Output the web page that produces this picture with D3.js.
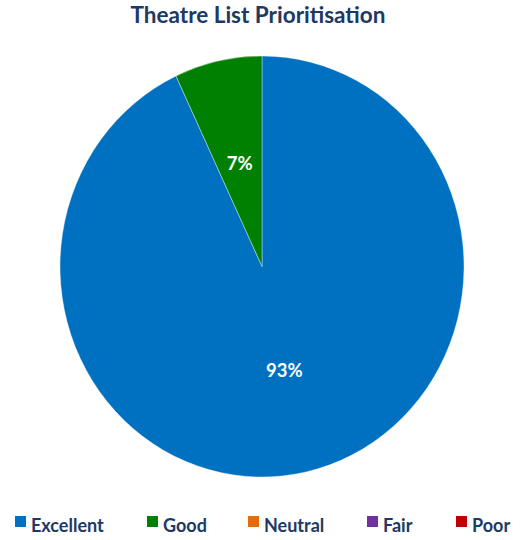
<!DOCTYPE html>
<html><head><meta charset="utf-8">
<script src="https://cdn.jsdelivr.net/npm/d3@7/dist/d3.min.js"></script>
<style>body{margin:0;background:#fff}svg{display:block}</style>
</head><body>
<svg id="c" width="525" height="540"></svg>
<script>
const categories = ["Excellent", "Good", "Neutral", "Fair", "Poor"];
const values = [93, 7, 0, 0, 0];
const colors = ["#0070C0", "#008000", "#E46C0A", "#7030A0", "#C00000"];
const title = "Theatre List Prioritisation";

const svg = d3.select("#c");
const font = "Lato, 'Open Sans', sans-serif";
const navy = "#203864";

svg.append("text").attr("x", 258).attr("y", 23).attr("text-anchor", "middle")
  .attr("font-family", font).attr("font-weight", 700).attr("font-size", 22.5)
  .attr("fill", navy).text(title);

const cx = 262, cy = 266.5, r = 202, sy = 210.5 / 202;
const data = categories.map((c, i) => ({cat: c, value: values[i], color: colors[i]}));
const pie = d3.pie().sort(null).value(d => d.value);
const arcs = pie(data).filter(d => d.data.value > 0);
const arc = d3.arc().innerRadius(0).outerRadius(r);
const labelArc = d3.arc().innerRadius(r * 0.505).outerRadius(r * 0.505);

const g = svg.append("g").attr("transform", `translate(${cx},${cy}) scale(1,${sy})`);
g.selectAll("path").data(arcs).join("path")
  .attr("d", arc).attr("fill", d => d.data.color)
  .attr("stroke", "#fff").attr("stroke-width", 0.6).attr("stroke-opacity", 0.6);

const total = d3.sum(values);
svg.append("g").attr("transform", `translate(${cx},${cy})`)
  .selectAll("text").data(arcs).join("text")
  .attr("x", d => labelArc.centroid(d)[0])
  .attr("y", d => labelArc.centroid(d)[1] * sy)
  .attr("dy", "0.38em").attr("text-anchor", "middle")
  .attr("font-family", font).attr("font-weight", 700).attr("font-size", 18.5)
  .attr("fill", "#fff").text(d => Math.round(d.data.value / total * 100) + "%");

const legendX = [15, 147, 248, 367, 456];
const lg = svg.append("g");
data.forEach((d, i) => {
  lg.append("rect").attr("x", legendX[i]).attr("y", 516).attr("width", 11).attr("height", 11).attr("fill", d.color);
  lg.append("text").attr("x", legendX[i] + 16).attr("y", 532)
    .attr("font-family", font).attr("font-weight", 700).attr("font-size", 18)
    .attr("fill", navy).text(d.cat);
});
</script>
</body></html>
